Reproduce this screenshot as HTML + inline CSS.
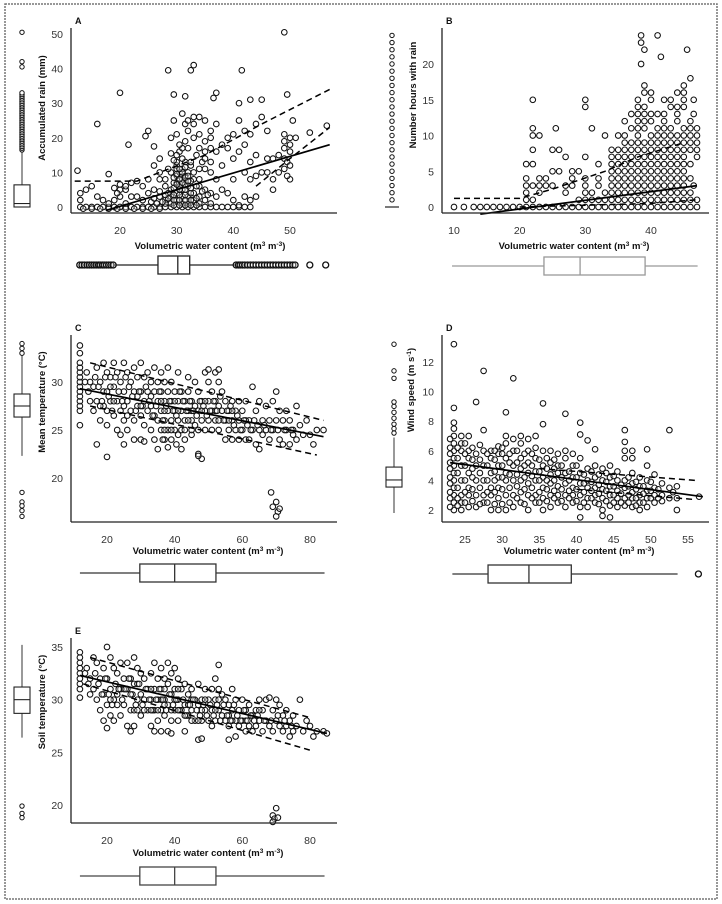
<!DOCTYPE html>
<html><head><meta charset="utf-8"><style>
html,body{margin:0;padding:0;background:#fff;}
svg{display:block;font-family:"Liberation Sans Narrow","Liberation Sans",sans-serif;}
.tk{font-size:10.5px;fill:#333;}
.tt{font-size:9.5px;font-weight:bold;fill:#111;}
.pl{font-size:9px;font-weight:bold;fill:#111;}
</style></head><body>
<svg id="fig" width="722" height="904" viewBox="0 0 722 904" xmlns="http://www.w3.org/2000/svg">
<rect x="5" y="4" width="712" height="895" fill="none" stroke="#777" stroke-width="1.5" stroke-dasharray="2,1"/>
</svg>
<script>
// ---------- Panel A data ----------
const aXTicks=[20,30,40,50];
const aYTicks=[0,10,20,30,40,50];
const aPoints=[[12.5,10.5],[16,24],[18,9.5],[20,33],[21.5,18],[24.5,20.5],[25,22],[26,17.5],[27,14],[28.5,39.5],[29.5,32.5],[32.5,39.5],[33,41],[31.5,32],[36.5,31.5],[37,33],[41.5,39.5],[41,30],[43,31],[45,31],[49,50.5],[49.5,32.5],[50.5,25],[53.5,21.5],[56.5,23.5],[47,5],[50,8],
[13,0],[14,0],[15,0],[16,0],[17,0],[18,0],[19,0],[20,0],[21,0],[22,0],[23,0],[24,0],[25,0],[26,0],[27,0],[28,0],[29,0],[30,0],[31,0],[32,0],[33,0],[34,0],[35,0],[36,0],[37,0],[38,0],[39,0],[40,0],[41,0],[42,0],[43,0],[13.5,-0.5],[15,-0.5],[16.5,-0.5],[18,-0.5],[19.5,-0.5],[21,-0.5],[22.5,-0.5],[24,-0.5],[25.5,-0.5],[27,-0.5],
[18,1],[19,2],[20,3],[20,5],[19.5,4],[21,5],[22,7],[23,7.5],[22,3],[24,2],[25,4],[26,5],[27,8],[27,3],[28,6],[28,2],[29,10],[29,5],[29,3],[29,1],[30,12],[30,9],[30,7],[30,4],[30,2],[30.5,16],[31,11],[31,8],[31,5],[31,3],[31,1],[32,10],[32,6],[32,3],[32,1],[33,8],[33,4],[33,2],[34,6],[34,3],[34,1],[35,5],[35,2],[36,4],[36,1],[37,3],[28,1],[29.5,7],[30.5,6],[31.5,13],[32.5,12],[33.5,15],[30,15],[29,15.5],[31,17],[32,17],[34,17],[35,16],[36,17],[37,16],[30.5,10],[31.5,9],[30,11],[29.5,8.5],[32.5,7.5],[28.5,4],[31.5,6.5],
[29.5,25],[30,21],[31,27],[31.5,24],[32,22],[33,24],[34,26],[35,25],[33,20],[34,21],[36,22],[37,24],[35,19],[36,20],[38,18],[39,20],[40,21],[39,17],[38,12],[40,14],[41,16],[42,18],[42,22],[43,21],[41,25],[44,24],[45,26],[46,22],[44,15],[46,14],[47,14],[45,10],[43,13],[42,10],[40,8],[39,4],[40,2],[41,0.5],[42,3],[43,2],[44,3],[43,8],[44,9],[46,10],[48,15],[49,11],[49,14],[49,17],[49,19],[49,21],[49.5,13],[50,16],[50,18],[50,20],[49.5,9],[50,12],[51,20],[47,8],[48,10],[37,8],[38,5],[36,10],[35,11],[34,11],[26,12],[27,10],[25,8],[24,6],[23,3],[21,1],[15,6],[14,5],[13,2],[13,4],[16,3],[17,2],[19,5.5],[20,6.5],[21,6]];
const aDense=[[29.5,0.5],[30.5,0.5],[31.5,0.5],[32.5,0.5],[33.5,0.5],[29.5,2],[30.5,2],[31.5,2],[32.5,2],[33.5,2.5],[29.5,3.5],[30.5,3.5],[31.5,3.5],[32.5,4],[29.5,5.5],[30.5,5],[31.5,5],[32.5,5.5],[33.5,6],[30,6.5],[31,7],[32,7.5],[30.5,8],[31.5,8.5],[30,9.5],[31,10],[32,9],[30.5,11],[31.5,11.5],[30,13],[31,14],[28.5,2.5],[27.5,1.5],[26.5,1],[25.5,1.5],[26,2.5],[27,4.5],[28,3.5],[28,8],[34.5,4.5],[35.5,3.5],[34,8],[33,10],[32.5,13],[30.5,18],[31.5,19],[29,20],[32,25],[33,26],[29.5,13.5],[28.5,11],[34.5,13],[36,13],[35,14]];
const aFit=[[17.5,-1],[57,18]];
const aUpper=[[12,7.5],[23,7.5],[35,15],[45,24],[57,34]];
const aLower=[[44,6],[50,14],[57,23]];
// ---------- Panel B data ----------
const bXTicks=[10,20,30,40];
const bYTicks=[0,5,10,15,20];
const bRows=[[0,[10,11.5,13,14,15,16,17,18,19,20,21,22,23,24,25,26,27,28,29,30,31,32,33,34,35,36,37,38,39,40,41,42,43,44,45,46,47]],
[1,[21,22,29,30,31,32,33,34,35,36,37,38,39,40,41,42,43,44,45,46,47]],
[2,[21,23,27,30,31,33,34,35,36,37,38,39,40,41,42,43,44,45,46]],
[3,[21,22,23,24,25,27,28,30,32,34,35,36,37,38,39,40,41,42,43,44,45,46.5]],
[4,[21,23,24,28,30,32,34,35,36,37,38,39,40,41,42,43,44,45,46]],
[5,[25,26,28,29,34,35,36,37,38,39,40,41,42,43,44,45]],
[6,[21,22,32,34,35,36,37,38,39,40,41,42,43,44,45,46]],
[7,[27,30,34,35,36,37,38,39,40,41,42,43,44,45,47]],
[8,[22,25,26,34,35,36,37,38,39,40,41,42,43,44,45,46,47]],
[9,[36,37,38,39,40,41,42,43,44,45,46,47]],
[10,[22,23,33,35,36,38,40,41,42,43,44,45,46,47]],
[11,[22,25.5,31,37,38,39,41,42,43,45,46,47]],
[12,[36,38,39,40,42,44,46]],
[13,[37,38,39,40,41,42,44,46.5]],
[14,[30,38,39,43,44,45]],
[15,[22,30,38,40,42,43,45,46.5]],
[16,[39,40,44,45]],[17,[39,45]],[18,[46]],[20,[38.5]],[21,[41.5]],[22,[39,45.5]],[23,[38.5]],[24,[38.5,41]]];
const bFit=[[14,-1],[47,3]];
const bUpper=[[10,1.2],[20,1.2],[25,2.5],[33,5],[38,7],[45,9]];
const bLower=[[20,0],[40,0.5],[47,1]];
// ---------- Panel C data ----------
const cXTicks=[20,40,60,80];
const cYTicks=[20,25,30];
const cPoints=[[12,27],[12,27.5],[12,28],[12,28.5],[12,29],[12,29.5],[12,30],[12,30.5],[12,31],[12,31.5],[12,32],[12,33],[12,33.8],[12,25.5],
[14,31],[15,30],[15,28],[16,29.5],[16,27],[17,31.5],[17,28],[18,30],[18,26],[19,32],[19,29],[19,27.5],[20,31],[20,29],[20,27],[20,25.5],[21,30.5],[21,28],[22,32],[22,29.5],[22,26.5],[23,31],[23,28],[23,25],[24,30],[24,27],[24,24.5],[25,32],[25,29],[25,26],[26,31],[26,28],[26,25],[27,30],[27,27],[28,31.5],[28,29],[28,26],[28,24],[29,30.5],[29,27.5],[30,32],[30,29],[30,26.5],[30,24],[31,30.5],[31,28],[31,25.5],[32,31],[32,29],[32,27],[33,30],[33,27.5],[33,25],[34,31.5],[34,29],[34,26.5],[34,24],[35,30],[35,28],[35,26],[35,23],[36,31],[36,29],[36,27],[36,25],[37,30],[37,28],[37,26],[37,24],[38,31.5],[38,29],[38,27],[38,25],[38,23.2],[39,30],[39,28],[39,26],[39,24],[40,29],[40,27],[40,25],[41,31],[41,28],[41,26],[42,29],[42,27],[42,25],[42,23],[43,28],[43,26],[43,24],[44,29],[44,27],[45,28],[45,26],[45,24.5],[46,30],[46,27.5],[46,25.5],[47,29],[47,27],[47,22.5],[48,28],[48,26],[48,22],[49,31],[49,27],[49,25],[50,30],[50,28],[50,26],[51,29],[51,27],[51,25],[52,31],[52,28],[52,26],[53,30],[53,27.5],[53,25],[54,29],[54,27],[55,28],[55,26],[55,24],[56,27],[56,25],[57,28],[57,26],[57,24],[58,27],[58,25],[59,28],[59,26],[59,24],[60,27],[60,25],[61,28],[61,24],[62,26],[62,24],[63,29.5],[63,25],[64,27],[64,23.5],[65,28],[65,23],[66,26],[66,24.5],[67,27.5],[67,25],[68,26],[68,24],[69,28],[69,25],[70,29],[70,26],[71,27],[71,24],[72,26],[72,23.5],[73,27],[73,25],[74,26],[74,23.5],[75,25],[76,27.5],[76,24],[77,25.5],[78,24.5],[79,26],[80,24.5],[81,23.5],[82,25],[84,25],[31,23.8],[20,22.2],[47,22.3],[68.5,18.5],[69,17],[70,17.5],[70.5,16.5],[71,16.8],[70,16],[75,24.5],[50,31.3],[53,31.3],[44,30.5],[25,23.5],[17,23.5],
[21,29.5],[25,27.5],[29,28.5],[33,28.5],[37,27],[41,27],[45,27],[49,28],[53,26],[57,27],[61,26],[65,25],[36,28],[40,28],[44,26],[48,27],[52,27],[56,26]];
const cDense=[[13.5,30],[14.5,29],[16.5,30.5],[17.5,29.5],[18.5,28],[19.5,30.5],[20.5,28.5],[21.5,27],[22.5,30.5],[23.5,29],[24.5,28],[25.5,30.5],[26.5,29.5],[27.5,28.5],[28.5,27],[29.5,29],[30.5,27.5],[31.5,29.5],[32.5,28],[33.5,26.5],[34.5,27.5],[35.5,29],[36.5,26],[37.5,27.5],[38.5,28],[39.5,27],[40.5,26.5],[41.5,29],[42.5,28],[43.5,27],[44.5,28],[45.5,27],[46.5,26.5],[47.5,28],[48.5,27.5],[49.5,26.5],[50.5,27],[51.5,28],[52.5,27],[53.5,28.5],[54.5,26],[55.5,27],[56.5,27.5],[57.5,25.5],[58.5,26.5],[59.5,25],[60.5,26],[61.5,25.5],[62.5,25],[63.5,26],[64.5,25.5],[66.5,25.5],[68.5,25],[70.5,25],[72.5,25],[74.5,25],[37,25],[39,25],[41,24.5],[43,25],[45,25],[47,25],[36.5,24],[40.5,23.5],[30,27.5],[26,26.5],[22,28],[18,27.5]];
const cFit=[[12,29.3],[84,24.3]];
const cUpper=[[15,32],[84,26]];
const cLower=[[15,27.5],[82,22.4]];
// ---------- Panel D data ----------
const dXTicks=[25,30,35,40,45,50,55];
const dYTicks=[2,4,6,8,10,12];
const dCols=[[23.5,[2,2.5,3,3.5,4,4.5,5,5.5,6,6.5,7,7.5,7.9,8.9,13.2]],[24.5,[2,2.5,3,4,5,6,6.5,7]],[25.5,[2.2,3,3.5,4.5,5.5,6,7]],[26.5,[2.2,3,4,5,5.8,9.3]],[27.5,[2.5,3,4,5,6,7.4,11.4]],[28.5,[2,3,3.5,4.5,5.5,6]],[29.5,[2,2.8,3.5,4.2,5,5.8,6.3]],[30.5,[2,3,4,4.5,5.5,6.5,7,8.6]],[31.5,[2.2,3,4,5,6,6.8,10.9]],[32.5,[2.5,3.2,4,4.8,5.5,6.5,7]],[33.5,[2,3,3.8,4.5,5.2,6,6.8]],[34.5,[2.5,3,4,4.6,5.5,6.2,7]],[35.5,[2,2.8,3.5,4.2,5,6,7.8,9.2]],[36.5,[2.2,3,3.8,4.4,5.2,6]],[37.5,[2.5,3,3.6,4.5,5,5.8]],[38.5,[2.2,3,3.8,4.5,5.5,6,8.5]],[39.5,[2.5,3,3.5,4.2,5,5.8]],[40.5,[1.5,2.2,3,3.8,4.5,5.5,7.1,7.9]],[41.5,[2.2,2.8,3.5,4,4.8,6.7]],[42.5,[2.5,3,3.5,4.2,5,6.1]],[43.5,[1.6,2,2.8,3.4,4,4.8]],[44.5,[1.5,2.3,3,3.6,4.2,5]],[45.5,[2.2,2.8,3.3,4,4.6]],[46.5,[2.3,2.8,3.5,4,5.5,6,6.6,7.4]],[47.5,[2.2,2.8,3.2,3.8,4.5,5.5,6]],[48.5,[2,2.5,3,3.6,4.2]],[49.5,[2.2,2.8,3.3,4,5,6.1]],[50.5,[2.5,3,3.5,4.4]],[51.5,[2.6,3,3.8]],[52.5,[2.8,3.5,7.4]],[53.5,[2,2.8,3.6]],[56.5,[2.9]]];
const dColsDense=[[23,[2.2,2.8,3.2,3.8,4.2,4.8,5.2,5.8,6.2,6.8]],[24,[2.3,2.8,3.5,4.5,5.5,6.2]],[25,[2.5,3.2,4,5,5.8,6.5]],[26,[2.6,3.4,4.2,4.8,5.4,6.2]],[27,[2.4,3.5,4.5,5.4,6.4]],[28,[2.5,3.2,4,5,5.8]],[29,[2.4,3.2,4,4.6,5.4,6]],[30,[2.4,3.4,4.2,5,5.8,6.2]],[31,[2.5,3.5,4.4,5.2,5.8]],[32,[2.8,3.6,4.4,5.2,6]],[33,[2.4,3.4,4.2,5,5.8]],[34,[2.8,3.5,4.3,5,5.8]],[35,[2.5,3.2,4,4.6,5.4]],[36,[2.6,3.4,4,4.8,5.5]],[37,[2.8,3.3,4,4.8,5.4]],[38,[2.6,3.4,4.2,5]],[39,[2.8,3.3,4,4.6]],[40,[2.6,3.4,4.2,5]],[41,[2.5,3.2,3.8,4.4]],[42,[2.8,3.3,3.9,4.6]],[43,[2.4,3.1,3.7,4.4]],[44,[2.6,3.3,3.9,4.5]],[45,[2.5,3,3.6,4.3]],[46,[2.5,3.1,3.7]],[47,[2.5,3,3.6,4.2]],[48,[2.3,2.8,3.4,3.9]],[49,[2.5,3.1,3.6]],[50,[2.8,3.3,3.9]],[51,[2.8,3.4]],[53,[3.2]]];
const dFit=[[23,5.2],[57,2.9]];
const dUpper=[[35,4.8],[56,4]];
const dLower=[[40,3.4],[56,2.7]];
// ---------- Panel E data ----------
const eXTicks=[20,40,60,80];
const eYTicks=[20,25,30,35];
const ePoints=[[12,30.2],[12,31],[12,31.5],[12,32],[12,32.5],[12,33],[12,33.5],[12,34],[12,34.5],
[14,33],[15,32],[15,30.5],[16,34],[16,31],[17,33.5],[17,30],[18,32],[18,29],[19,33],[19,30.5],[19,28],[20,35],[20,32],[20,29.5],[20,27.3],[21,34],[21,31],[21,28.5],[22,33],[22,30],[22,28],[23,32.5],[23,29.5],[24,33.5],[24,31],[24,28.5],[25,32],[25,29.5],[26,33.5],[26,31],[26,27.5],[27,32],[27,29],[27,27],[28,34],[28,31.5],[28,29],[28,27.5],[29,33],[29,30],[30,32.5],[30,30.5],[30,28.5],[31,32],[31,30],[32,31],[32,29],[33,32.5],[33,30],[33,27.5],[34,33.5],[34,31],[34,29],[34,27],[35,32],[35,30],[35,28],[36,33],[36,31],[36,29],[36,27],[37,32],[37,30],[37,28.5],[38,33.5],[38,31.5],[38,29.5],[38,27],[39,32.5],[39,30.5],[39,28],[39,26.8],[40,33],[40,31],[40,29],[41,32],[41,30],[41,28],[42,31],[42,29],[43,31.5],[43,29.5],[43,27],[44,30.5],[44,28.5],[45,31],[45,29],[46,30],[46,28],[47,31.5],[47,29.5],[47,26.2],[48,30],[48,28],[48,26.3],[49,31],[49,29],[50,30],[50,28],[51,31],[51,29],[51,27.5],[52,32],[52,30],[52,28],[53,33.3],[53,31],[53,29],[54,30.5],[54,28.5],[55,30],[55,28],[56,29.5],[56,27.5],[56,26.2],[57,31],[57,29],[58,30],[58,28],[58,26.5],[59,29],[59,27.5],[60,30],[60,28],[61,29],[61,27],[62,29.5],[62,27.5],[63,28.5],[63,27],[64,29],[64,27.5],[65,30],[65,28],[66,29],[66,27],[67,30],[67,28],[68,30.2],[68,27.5],[69,29],[69,27],[70,30],[70,28],[71,29.5],[71,27.5],[72,28.5],[72,27],[73,29],[73,27.5],[74,28],[74,26.5],[75,28.5],[75,27],[76,27.5],[77,30],[78,27],[79,28],[80,27.5],[81,26.5],[82,27],[84,27],[85,26.8],[69,19],[69.5,18.7],[70,19.7],[70.5,18.8],[69,18.4],
[21,30],[25,31],[29,31.5],[33,31],[37,31],[41,31],[45,30],[49,30],[53,30],[57,28],[61,28],[65,29],[36,30],[40,30],[44,29.5],[48,29],[52,29],[56,28.5]];
const eDense=[[13.5,32.5],[14.5,31.5],[16.5,32.5],[17.5,31.5],[18.5,30.5],[19.5,32],[20.5,30.5],[21.5,29.5],[22.5,31.5],[23.5,31],[24.5,30],[25.5,31],[26.5,32],[27.5,30.5],[28.5,29.5],[29.5,31.5],[30.5,29.5],[31.5,31],[32.5,30],[33.5,29],[34.5,30],[35.5,31],[36.5,30],[37.5,29],[38.5,30.5],[39.5,29.5],[40.5,30],[41.5,29],[42.5,30],[43.5,28.5],[44.5,29.5],[45.5,30],[46.5,29],[47.5,28.5],[48.5,29.5],[49.5,28.5],[50.5,29.5],[51.5,28.5],[52.5,29.5],[53.5,28],[54.5,29.5],[55.5,28.5],[56.5,28],[57.5,29.5],[58.5,28.5],[59.5,28],[60.5,29],[61.5,28],[62.5,28.5],[63.5,28],[64.5,28.5],[66.5,28],[68.5,28],[70.5,28.5],[72.5,28],[74.5,27.5],[35,29],[37,29.5],[39,29],[41,29],[43,28.5],[45,28],[47,28],[33,29],[31,29],[29,29],[27,30.5],[23,30.5]];
const eFit=[[12,32.3],[85,26.8]];
const eUpper=[[15,34],[80,28.3]];
const eLower=[[13,31.5],[80,25.2]];
// ---------- Marginal boxplots (data units) ----------
const aBoxY={lo:0,q1:0,med:1,q3:6.4,hi:16.5,out:[16.5,17,17.5,18,18.5,19,19.5,20,20.5,21,21.5,22,22.5,23,23.5,24,24.5,25,25.5,26,26.5,27,27.5,28,28.5,29,29.5,30,30.5,31,31.5,32,32.5,33,40.5,42,50.5]};
const aBoxX={lo:18.8,q1:26.7,med:30.2,q3:32.3,hi:40.5,out:[12.9,13.3,13.7,14.2,14.6,15,15.4,15.8,16.2,16.5,16.9,17.2,17.6,18,18.4,18.8,40.5,40.9,41.2,41.6,42,42.5,43,43.5,44,44.5,45,45.5,46,46.5,47,47.5,48,48.5,49,49.5,50,50.5,50.9,53.5,56.3]};
const bBoxY={line:0,out:[1,2,3,4,5,6,7,8,9,10,11,12,13,14,15,16,17,18,19,20,21,22,23,24]};
const bBoxX={lo:9.7,q1:23.7,med:29.2,q3:39.1,hi:47.1,out:[]};
const cBoxY={lo:22.3,q1:26.35,med:27.5,q3:28.75,hi:34.2,out:[33,33.5,34,18.5,17.5,17.1,16.6,16]};
const cBoxX={lo:12,q1:29.7,med:40,q3:52.2,hi:84.3,out:[]};
const dBoxY={lo:1.8,q1:3.55,med:4.03,q3:4.9,hi:6.9,out:[7.2,7.5,7.8,8.2,8.6,9,9.3,10.9,11.4,13.2]};
const dBoxX={lo:23.3,q1:28.1,med:33.6,q3:39.3,hi:53.6,out:[56.4]};
const eBoxY={lo:26.4,q1:28.7,med:30,q3:31.2,hi:35.2,out:[19.9,19.2,18.8]};
const eBoxX={lo:12,q1:29.7,med:40,q3:52.2,hi:84.3,out:[]};

const NS='http://www.w3.org/2000/svg';
const svg=document.getElementById('fig');
function el(tag,attrs,parent){const e=document.createElementNS(NS,tag);for(const k in attrs)e.setAttribute(k,attrs[k]);(parent||svg).appendChild(e);return e;}
function lin(v0,p0,v1,p1){return v=>p0+(v-v0)*(p1-p0)/(v1-v0);}

function panel(cfg){
  const g=el('g',{});
  
  
  const sx=lin(cfg.xa[0],cfg.xa[1],cfg.xa[2],cfg.xa[3]);
  const sy=lin(cfg.ya[0],cfg.ya[1],cfg.ya[2],cfg.ya[3]);
  const b=cfg.box;
  const pg=el('g',{},g);
  
  
  cfg.pts.forEach(p=>{
    const c=el('circle',{cx:sx(p[0]).toFixed(1),cy:sy(p[1]).toFixed(1),r:2.8,fill:'#fff','fill-opacity':0.35,stroke:'#111','stroke-width':1.05},pg);
    
    
  });
  [[cfg.fit,'',1.7,'fit-line'],[cfg.up,'6,4',1.5,'upper-ci-line'],[cfg.lo,'6,4',1.5,'lower-ci-line']].forEach(f=>{
    const pts=f[0].map(p=>sx(p[0]).toFixed(1)+','+sy(p[1]).toFixed(1)).join(' ');
    const l=el('polyline',{points:pts,fill:'none',stroke:'#000','stroke-width':f[2],'stroke-dasharray':f[1]},g);
    
    
  });
  const ya=el('line',{x1:b[0],y1:b[1],x2:b[0],y2:b[3],stroke:'#222','stroke-width':1.3},g);
  
  
  const xa=el('line',{x1:b[0],y1:b[3],x2:b[2],y2:b[3],stroke:'#222','stroke-width':1.3},g);
  
  
  cfg.xt.forEach(v=>{
    const t=el('text',{x:sx(v),y:b[3]+21,'text-anchor':'middle',class:'tk'},g);t.textContent=v;
    
    
  });
  cfg.yt.forEach(v=>{
    const t=el('text',{x:b[0]-8,y:sy(v)+4,'text-anchor':'end',class:'tk'},g);t.textContent=v;
    
    
  });
  const lab=el('text',{x:b[0]+4,y:b[1]-4,class:'pl'},g);lab.textContent=cfg.id.toUpperCase();
  
  
  const xt=el('text',{x:cfg.xtitle[0],y:cfg.xtitle[1],'text-anchor':'middle',class:'tt'},g);
  xt.innerHTML='Volumetric water content (m<tspan font-size="6.5" dy="-3">3</tspan><tspan dy="3"> m</tspan><tspan font-size="6.5" dy="-3">-3</tspan><tspan dy="3">)</tspan>';
  
  
  const yt=el('text',{x:0,y:0,'text-anchor':'middle',class:'tt',transform:'translate('+cfg.ytitle[0]+','+cfg.ytitle[1]+') rotate(-90)'},g);
  yt.innerHTML=cfg.ytext;
  
  
  const bx=cfg.bx, by=cfg.bxy, col=cfg.bxc;
  const hb=el('g',{},g);
  
  
  el('line',{x1:sx(bx.lo),y1:by,x2:sx(bx.hi),y2:by,stroke:col,'stroke-width':1.2},hb);
  el('rect',{x:sx(bx.q1),y:by-9,width:sx(bx.q3)-sx(bx.q1),height:18,fill:'#fff',stroke:col,'stroke-width':1.3},hb);
  el('line',{x1:sx(bx.med),y1:by-9,x2:sx(bx.med),y2:by+9,stroke:col,'stroke-width':1.3},hb);
  bx.out.forEach(v=>el('circle',{cx:sx(v),cy:by,r:3,fill:'#fff','fill-opacity':0.3,stroke:'#111','stroke-width':1.3},hb));
  const vb=el('g',{},g);
  
  
  const by2=cfg.by, lx=cfg.byx;
  if(by2.line!==undefined){
    el('line',{x1:lx-7,y1:sy(by2.line),x2:lx+7,y2:sy(by2.line),stroke:'#222','stroke-width':1.2},vb);
  } else {
    el('line',{x1:lx,y1:sy(by2.lo),x2:lx,y2:sy(by2.hi),stroke:'#333','stroke-width':1},vb);
    el('rect',{x:lx-8,y:sy(by2.q3),width:16,height:Math.max(1,sy(by2.q1)-sy(by2.q3)),fill:'#fff',stroke:'#222','stroke-width':1.1},vb);
    el('line',{x1:lx-8,y1:sy(by2.med),x2:lx+8,y2:sy(by2.med),stroke:'#222','stroke-width':1.1},vb);
  }
  by2.out.forEach(v=>el('circle',{cx:lx,cy:sy(v),r:2.2,fill:'#fff',stroke:'#111','stroke-width':1},vb));
}

function rowsToPts(rows){const o=[];rows.forEach(r=>r[1].forEach(x=>o.push([x,r[0]])));return o;}
function colsToPts(cols){const o=[];cols.forEach(c=>c[1].forEach(y=>o.push([c[0],y])));return o;}

panel({id:'a',xa:[20,120,50,290],ya:[0,207,50,34],box:[71,28,337,213],pts:aPoints.concat(aDense),fit:aFit,up:aUpper,lo:aLower,xt:aXTicks,yt:aYTicks,
  xtitle:[210,249],ytitle:[45,108],ytext:'Accumulated rain (mm)',bx:aBoxX,bxy:265,bxc:'#222',by:aBoxY,byx:22});
panel({id:'b',xa:[10,454,40,651],ya:[0,207,20,64],box:[442,28,709,213],pts:rowsToPts(bRows),fit:bFit,up:bUpper,lo:bLower,xt:bXTicks,yt:bYTicks,
  xtitle:[574,249],ytitle:[416,95],ytext:'Number hours with rain',bx:bBoxX,bxy:266,bxc:'#999',by:bBoxY,byx:392});
panel({id:'c',xa:[20,107,80,310],ya:[30,382,20,478],box:[71,335,337,522],pts:cPoints.concat(cDense),fit:cFit,up:cUpper,lo:cLower,xt:cXTicks,yt:cYTicks,
  xtitle:[208,554],ytitle:[45,402],ytext:'Mean temperature (°C)',bx:cBoxX,bxy:573,bxc:'#333',by:cBoxY,byx:22});
panel({id:'d',xa:[25,465,55,688],ya:[2,510,12,362],box:[442,335,709,522],pts:colsToPts(dCols).concat(colsToPts(dColsDense)),fit:dFit,up:dUpper,lo:dLower,xt:dXTicks,yt:dYTicks,
  xtitle:[579,554],ytitle:[414,390],ytext:'Wind speed (m s<tspan font-size="6.5" dy="-3">-1</tspan><tspan dy="3">)</tspan>',bx:dBoxX,bxy:574,bxc:'#333',by:dBoxY,byx:394});
panel({id:'e',xa:[20,107,80,310],ya:[35,647,20,805],box:[71,638,337,823],pts:ePoints.concat(eDense),fit:eFit,up:eUpper,lo:eLower,xt:eXTicks,yt:eYTicks,
  xtitle:[208,856],ytitle:[45,702],ytext:'Soil temperature (°C)',bx:eBoxX,bxy:876,bxc:'#444',by:eBoxY,byx:22});
</script>
</body></html>
